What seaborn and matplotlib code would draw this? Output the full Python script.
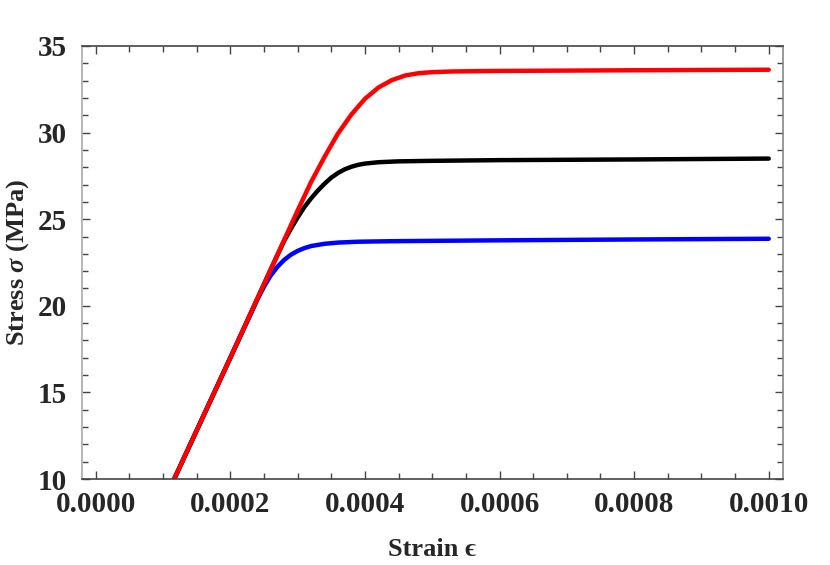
import numpy as np
import pandas as pd
import matplotlib
matplotlib.use('Agg')
import matplotlib.pyplot as plt
from matplotlib.ticker import MultipleLocator, FormatStrFormatter
import seaborn as sns

# values (strain, stress in MPa)
red_strain = [0.0001166, 0.0002, 0.0003, 0.00032, 0.00034, 0.00036, 0.00038,
              0.0004, 0.00042, 0.00044, 0.00046, 0.00048, 0.0005, 0.00053,
              0.00057, 0.0006, 0.0008, 0.001]
red_stress = [10.0, 17.0, 25.5, 27.15, 28.6, 29.95, 31.05,
              31.95, 32.6, 33.03, 33.3, 33.43, 33.49, 33.53,
              33.55, 33.56, 33.6, 33.63]

black_strain = [0.0001166, 0.0002, 0.00026, 0.00028, 0.00029, 0.0003, 0.00031,
                0.00032, 0.00033, 0.00034, 0.00035, 0.00036, 0.00037, 0.00038,
                0.00039, 0.0004, 0.00042, 0.00045, 0.0005, 0.0006, 0.0008, 0.001]
black_stress = [10.0, 17.0, 22.1, 23.75, 24.45, 25.1, 25.7,
                26.2, 26.65, 27.05, 27.4, 27.67, 27.88, 28.03,
                28.14, 28.21, 28.29, 28.34, 28.37, 28.41, 28.45, 28.5]

blue_strain = [0.0001166, 0.0002, 0.00023, 0.00024, 0.00025, 0.00026, 0.00027,
               0.00028, 0.00029, 0.0003, 0.00031, 0.00032, 0.00034, 0.00036,
               0.00039, 0.00044, 0.0005, 0.0006, 0.0008, 0.001]
blue_stress = [10.0, 17.0, 19.5, 20.35, 21.1, 21.75, 22.25,
               22.65, 22.95, 23.17, 23.33, 23.45, 23.58, 23.65,
               23.7, 23.73, 23.75, 23.78, 23.83, 23.87]

curves = [('blue', blue_strain, blue_stress, '#0000ff'),
          ('black', black_strain, black_stress, '#000000'),
          ('red', red_strain, red_stress, '#ff0000')]

sns.set_style('ticks')
plt.rcParams['font.family'] = ['Liberation Serif', 'DejaVu Serif']
plt.rcParams['font.weight'] = 'bold'
plt.rcParams['mathtext.fontset'] = 'custom'
plt.rcParams['mathtext.it'] = 'Liberation Serif:italic:bold'
plt.rcParams['mathtext.rm'] = 'Liberation Serif:bold'

fig = plt.figure(figsize=(8.3, 5.65), dpi=100)
ax = fig.add_axes([82 / 830, 1 - 479 / 565, 701 / 830, 433 / 565])

for name, x, y, col in curves:
    df = pd.DataFrame({'strain': x, 'stress': y})
    sns.lineplot(data=df, x='strain', y='stress', color=col, lw=3.2,
                 sort=False, estimator=None, ax=ax)

ax.set_xlim(-0.0000204, 0.0010212)
ax.set_ylim(10, 35)

ax.xaxis.set_major_locator(MultipleLocator(0.0002))
ax.xaxis.set_minor_locator(MultipleLocator(0.00005))
ax.xaxis.set_major_formatter(FormatStrFormatter('%.4f'))
ax.yaxis.set_major_locator(MultipleLocator(5))
ax.yaxis.set_minor_locator(MultipleLocator(1))

ax.tick_params(which='both', direction='in', top=True, right=True,
               color='#444444', width=1)
ax.tick_params(which='major', length=6)
ax.tick_params(which='minor', length=4)
ax.tick_params(axis='x', which='major', labelsize=21, pad=9)
ax.tick_params(axis='y', which='major', labelsize=21, pad=11)
for lab in ax.get_xticklabels() + ax.get_yticklabels():
    lab.set_fontweight('bold')

ax.spines['bottom'].set_color('#444444')
ax.spines['top'].set_color('#444444')
ax.spines['left'].set_color('#aaaaaa')
ax.spines['right'].set_color('#888888')
for s in ax.spines.values():
    s.set_linewidth(1.2)

ax.set_xlabel('Strain \u03f5', fontsize=19, fontweight='bold', labelpad=14)
ax.set_ylabel('Stress $\\sigma$ (MPa)', fontsize=19, fontweight='bold', labelpad=5)

fig.savefig('out.png', dpi=100)
